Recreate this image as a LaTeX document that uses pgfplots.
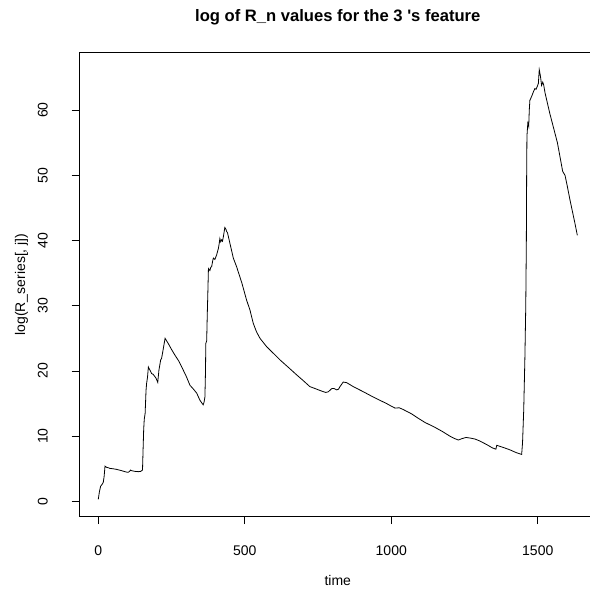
\documentclass[border=0pt]{standalone}
\usepackage{pgfplots}
\pgfplotsset{compat=1.18}
\usepackage{fontspec}
\setmainfont{Liberation Sans}
\begin{document}
\begin{tikzpicture}
\begin{axis}[
  scale only axis,
  width=517.4bp, height=464.1bp,
  xmin=-65.4, xmax=1700.4,
  ymin=-2.34, ymax=68.84,
  xtick={0,500,1000,1500},
  ytick={0,10,20,30,40,50,60},
  tick align=outside,
  xtick pos=left, ytick pos=left,
  major tick length=7.5bp,
  tick style={black, line width=0.8bp},
  axis line style={black, line width=0.8bp},
  /pgf/number format/assume math mode=true,
  /pgf/number format/1000 sep={},
  tick label style={font=\fontsize{14bp}{16bp}\selectfont},
  xticklabel style={anchor=base},
  xticklabel shift={31.7bp},
  yticklabel style={rotate=90, anchor=base},
  yticklabel shift={24bp},
  label style={font=\fontsize{14bp}{16bp}\selectfont},
  xlabel={time},
  xlabel style={at={([yshift=-68.4bp]rel axis cs:0.5,0)}, anchor=base},
  ylabel={log(R\_series[, j])},
  ylabel style={at={([xshift=-54bp]rel axis cs:0,0.5)}, anchor=base, rotate=0},
  title={log of R\_n values for the 3 \textquotesingle s feature},
  title style={at={([yshift=25bp]rel axis cs:0.5,1)}, anchor=base, font=\bfseries\fontsize{16.6bp}{19bp}\selectfont},
]
\addplot[black, line width=0.8bp] table {
x y
0 0.3
4 1.5
8 2.3
13 2.6
17 2.9
20 3.8
23 5.4
29 5.2
35 5.15
40 5.05
50 5.0
63 4.9
80 4.7
95 4.5
102 4.45
107 4.6
110 4.8
114 4.7
125 4.6
137 4.55
145 4.6
151 4.8
153 8.0
155 11.0
157 12.6
160 13.5
163 17.0
165 18.1
168 19.0
171 20.6
173 20.4
178 20.0
182 19.6
187 19.5
192 19.2
197 18.9
203 18.25
207 20.1
213 21.7
216 21.9
220 22.9
228 25.0
239 24.2
250 23.3
262 22.4
275 21.5
285 20.6
300 19.2
313 17.8
325 17.2
336 16.6
347 15.5
358 14.8
361 15.2
364 16.0
366 20.0
367 24.2
370 24.6
372 28.6
374 32
376 35.7
381 35.4
384 35.9
387 36.0
391 37.0
393 37.3
398 37.1
404 37.8
410 38.8
413 39.6
415 40.3
418 39.8
421 40.1
424 39.9
427 40.6
432 42.0
436 41.7
438 41.4
441 41.2
461 37.3
472 36.0
490 33.5
506 30.9
518 29.3
529 27.3
540 26.0
552 25.0
575 23.7
600 22.6
620 21.7
650 20.5
677 19.4
700 18.5
722 17.6
740 17.3
757 17.0
776 16.7
785 16.8
797 17.3
805 17.3
814 17.1
820 17.2
825 17.6
836 18.3
848 18.2
870 17.6
905 16.8
930 16.2
961 15.5
984 15.0
1000 14.6
1013 14.3
1027 14.35
1040 14.1
1070 13.4
1090 12.8
1115 12.1
1149 11.35
1175 10.7
1200 10.0
1215 9.65
1229 9.4
1240 9.6
1255 9.8
1270 9.7
1286 9.55
1300 9.3
1326 8.7
1345 8.2
1357 8.0
1360 8.6
1380 8.3
1405 7.9
1425 7.5
1445 7.2
1448 9.0
1452 14.0
1456 22.0
1459 30.0
1461 40.0
1462 50.0
1463 56.0
1466 58.0
1469 57.5
1471 60.0
1473 61.5
1479 62.1
1485 62.8
1490 63.3
1494 63.2
1498 63.6
1502 64.1
1505 66.2
1508 65.5
1510 64.9
1513 63.8
1517 64.3
1520 63.9
1525 62.6
1541 59.5
1567 55.0
1585 50.6
1593 50.0
1600 48.5
1610 46.2
1627 42.6
1635 40.8
};
\end{axis}
\pgfresetboundingbox
\path[use as bounding box] (-79.1bp,-74.4bp) rectangle (510.9bp,516.6bp);
\end{tikzpicture}
\end{document}
